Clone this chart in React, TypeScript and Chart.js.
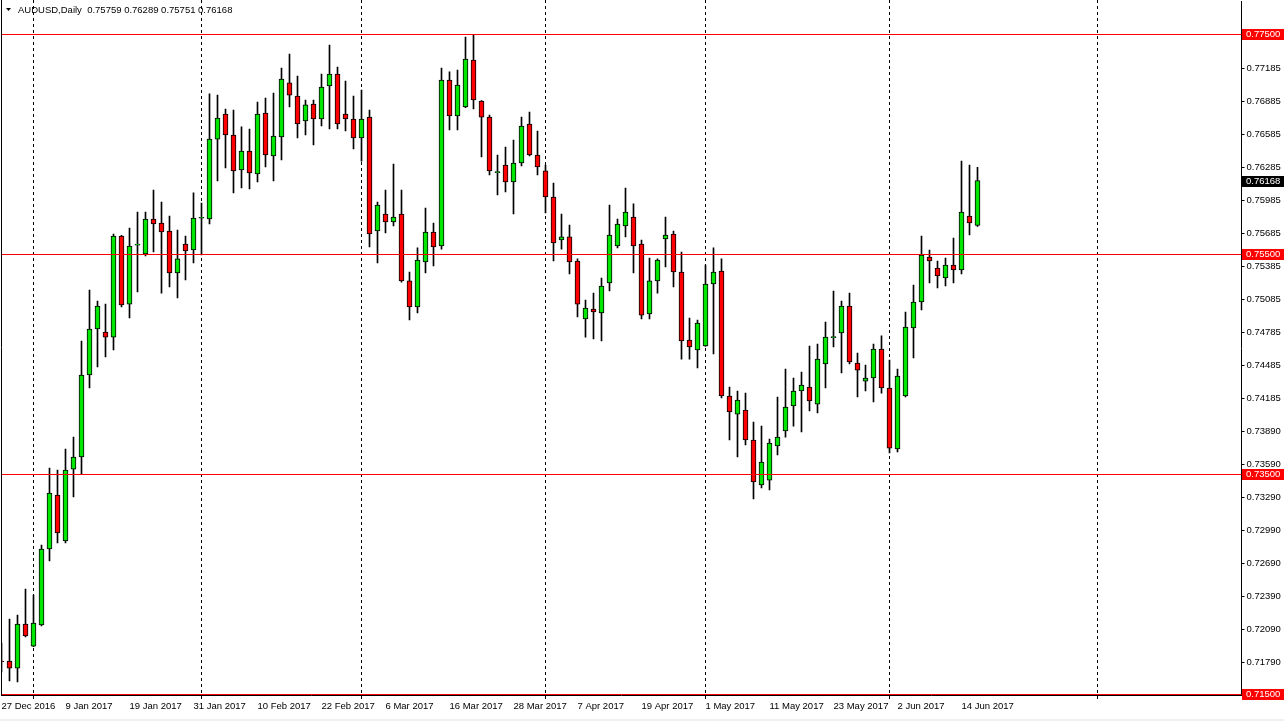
import React, { useEffect, useRef } from "react";
import { Chart, registerables } from "chart.js";

Chart.register(...registerables);

// ---- Data (AUDUSD daily) ----
const SYMBOL = "AUDUSD,Daily";

const OPEN = [
  0.718, 0.718, 0.71736, 0.72136, 0.71936, 0.72127, 0.72818, 0.73309, 0.72891, 0.73545,
  0.73655, 0.744, 0.74818, 0.74791, 0.74745, 0.75664, 0.75045, 0.7558, 0.755, 0.75818,
  0.75782, 0.75709, 0.75327, 0.75591, 0.75536, 0.75825, 0.75818, 0.76545, 0.76773, 0.76582,
  0.76264, 0.76436, 0.76227, 0.76782, 0.76391, 0.76564, 0.77055, 0.76936, 0.76709, 0.76864,
  0.76727, 0.77027, 0.77136, 0.76773, 0.76727, 0.76555, 0.76745, 0.75709, 0.75864, 0.75791,
  0.75864, 0.75255, 0.75018, 0.75427, 0.757, 0.75573, 0.77082, 0.76755, 0.76836, 0.77264,
  0.76891, 0.76745, 0.7624, 0.76309, 0.76155, 0.76327, 0.76682, 0.764, 0.76255, 0.76018,
  0.75627, 0.75655, 0.75436, 0.74909, 0.75, 0.74964, 0.75236, 0.75573, 0.75755, 0.75836,
  0.75591, 0.74955, 0.75255, 0.75636, 0.75682, 0.75336, 0.74718, 0.74627, 0.74664, 0.75227,
  0.75345, 0.74209, 0.74045, 0.74082, 0.73809, 0.734, 0.73445, 0.73755, 0.73891, 0.74118,
  0.74255, 0.74291, 0.74136, 0.745, 0.7474, 0.74782, 0.75027, 0.74509, 0.74345, 0.74373,
  0.74636, 0.74282, 0.73727, 0.74209, 0.74827, 0.75064, 0.75473, 0.75373, 0.75282, 0.754,
  0.75355, 0.75845, 0.75759,
];
const HIGH = [
  0.71964, 0.72182, 0.72218, 0.72455, 0.724, 0.72855, 0.73555, 0.73536, 0.73727, 0.73836,
  0.74709, 0.75173, 0.75073, 0.75045, 0.75682, 0.7567, 0.75736, 0.75882, 0.75882, 0.76082,
  0.75973, 0.75845, 0.75718, 0.75664, 0.76055, 0.75964, 0.76955, 0.76945, 0.76818, 0.76809,
  0.76655, 0.76636, 0.76882, 0.76918, 0.76964, 0.77191, 0.77318, 0.77118, 0.769, 0.769,
  0.77136, 0.774, 0.772, 0.77073, 0.76936, 0.76991, 0.76809, 0.75973, 0.76082, 0.76318,
  0.76082, 0.75336, 0.75555, 0.75918, 0.75782, 0.77191, 0.77155, 0.77173, 0.77473, 0.77491,
  0.76895, 0.76764, 0.764, 0.76473, 0.76536, 0.76745, 0.76791, 0.76618, 0.76309, 0.76145,
  0.75864, 0.75764, 0.75455, 0.75082, 0.75145, 0.75282, 0.75945, 0.75818, 0.761, 0.75955,
  0.75627, 0.75464, 0.75455, 0.75836, 0.75709, 0.75518, 0.74918, 0.749, 0.754, 0.75555,
  0.75455, 0.74291, 0.74255, 0.74236, 0.73973, 0.73936, 0.73818, 0.742, 0.74455, 0.74373,
  0.74427, 0.74664, 0.74682, 0.74882, 0.75164, 0.75073, 0.75145, 0.746, 0.74491, 0.74682,
  0.74755, 0.74536, 0.74455, 0.74973, 0.75218, 0.75664, 0.75536, 0.75436, 0.75464, 0.75645,
  0.76345, 0.76309, 0.76289,
];
const LOW = [
  0.717, 0.71618, 0.71609, 0.72018, 0.7193, 0.7212, 0.72709, 0.72873, 0.72873, 0.73291,
  0.735, 0.74282, 0.74473, 0.74564, 0.74627, 0.75018, 0.74918, 0.75155, 0.75482, 0.75518,
  0.75145, 0.752, 0.751, 0.75264, 0.75418, 0.75491, 0.75773, 0.76164, 0.76282, 0.76055,
  0.761, 0.76091, 0.76155, 0.76291, 0.76164, 0.76355, 0.76836, 0.76555, 0.76582, 0.76491,
  0.76664, 0.76636, 0.76636, 0.76618, 0.76455, 0.76345, 0.75564, 0.75418, 0.75691, 0.75755,
  0.75245, 0.749, 0.74964, 0.75327, 0.75391, 0.75545, 0.76627, 0.76627, 0.7683, 0.76818,
  0.76382, 0.76218, 0.76036, 0.76064, 0.75864, 0.763, 0.76391, 0.76218, 0.75873, 0.75436,
  0.75545, 0.75318, 0.74927, 0.74745, 0.74727, 0.74709, 0.75164, 0.75555, 0.75655, 0.75327,
  0.74909, 0.74909, 0.75145, 0.75382, 0.752, 0.74545, 0.74545, 0.74464, 0.7466, 0.74591,
  0.74191, 0.73809, 0.73655, 0.73764, 0.73273, 0.73373, 0.73355, 0.73673, 0.73836, 0.73936,
  0.73882, 0.74073, 0.74055, 0.74282, 0.74655, 0.74418, 0.745, 0.742, 0.74255, 0.74155,
  0.74236, 0.73691, 0.737, 0.742, 0.74555, 0.74991, 0.75236, 0.75191, 0.75209, 0.75236,
  0.75318, 0.75673, 0.75751,
];
const CLOSE = [
  0.71791, 0.71736, 0.72136, 0.72027, 0.72145, 0.72818, 0.73327, 0.72964, 0.73536, 0.73655,
  0.744, 0.74818, 0.75027, 0.74745, 0.75664, 0.75036, 0.75573, 0.75585, 0.75818, 0.75773,
  0.757, 0.75327, 0.75455, 0.75527, 0.75827, 0.7583, 0.76545, 0.76736, 0.76582, 0.76255,
  0.76436, 0.76236, 0.76773, 0.764, 0.76573, 0.77091, 0.76945, 0.76682, 0.76855, 0.76727,
  0.77018, 0.77136, 0.76682, 0.76727, 0.76555, 0.76727, 0.75682, 0.75945, 0.75791, 0.75836,
  0.75255, 0.75018, 0.75445, 0.757, 0.75564, 0.77082, 0.76755, 0.77036, 0.77273, 0.769,
  0.76745, 0.76255, 0.7625, 0.76155, 0.76327, 0.76664, 0.764, 0.76291, 0.76018, 0.756,
  0.75655, 0.75427, 0.75045, 0.75009, 0.74973, 0.75209, 0.75673, 0.75773, 0.75882, 0.75573,
  0.74945, 0.75255, 0.75445, 0.75673, 0.75336, 0.74709, 0.74655, 0.74873, 0.75227, 0.75336,
  0.74209, 0.74064, 0.74173, 0.73809, 0.73427, 0.73609, 0.73782, 0.73836, 0.74109, 0.74255,
  0.74309, 0.74164, 0.74545, 0.74745, 0.7475, 0.75027, 0.74518, 0.74445, 0.74373, 0.74636,
  0.74282, 0.73736, 0.74391, 0.74836, 0.75064, 0.75491, 0.75436, 0.753, 0.754, 0.75355,
  0.75882, 0.75782, 0.76168,
];

// bottom time-axis labels, one every BARS_PER_LABEL bars
const DATE_LABELS = [
  "27 Dec 2016", "9 Jan 2017", "19 Jan 2017", "31 Jan 2017", "10 Feb 2017", "22 Feb 2017",
  "6 Mar 2017", "16 Mar 2017", "28 Mar 2017", "7 Apr 2017", "19 Apr 2017", "1 May 2017",
  "11 May 2017", "23 May 2017", "2 Jun 2017", "14 Jun 2017",
];
const BARS_PER_LABEL = 8;
const TOTAL_SLOTS = 156;
// bars where a new month starts (period separators)
const SEPARATOR_BARS = [4, 25, 45, 68, 88, 111, 137];

// right price-axis ticks
const PRICE_TICKS = [
  0.77485, 0.77185, 0.76885, 0.76585, 0.76285, 0.75985, 0.75685, 0.75385, 0.75085, 0.74785,
  0.74485, 0.74185, 0.7389, 0.7359, 0.7329, 0.7299, 0.7269, 0.7239, 0.7209, 0.7179,
];
const PRICE_MIN = 0.71491;
const PRICE_MAX = 0.778;

// horizontal support / resistance lines
const LEVELS = [0.775, 0.755, 0.735, 0.715];
const LAST_PRICE = CLOSE[CLOSE.length - 1];

const BULL = "#00e600";
const BEAR = "#ff0000";
const LEVEL_COLOR = "#ff0000";
const FONT = "'Liberation Sans', Arial, sans-serif";

const CATEGORIES = Array.from({ length: TOTAL_SLOTS }, (_, i) =>
  i % BARS_PER_LABEL === 0 && DATE_LABELS[i / BARS_PER_LABEL] ? DATE_LABELS[i / BARS_PER_LABEL] : ""
);
const LABEL_INDEXES = DATE_LABELS.map((_, k) => k * BARS_PER_LABEL);

const overlayPlugin = {
  id: "mtOverlay",
  beforeDatasetsDraw(chart: any) {
    const { ctx, chartArea: a, scales } = chart;
    ctx.save();
    ctx.strokeStyle = "#000";
    ctx.lineWidth = 1;
    ctx.setLineDash([3, 3]);
    SEPARATOR_BARS.forEach((i) => {
      const px = Math.floor(scales.x.getPixelForValue(i)) + 0.5;
      ctx.beginPath();
      ctx.moveTo(px, 0);
      ctx.lineTo(px, a.bottom);
      ctx.stroke();
    });
    ctx.restore();
  },
  afterDatasetsDraw(chart: any) {
    const { ctx, chartArea: a, scales } = chart;
    ctx.save();
    ctx.fillStyle = LEVEL_COLOR;
    LEVELS.forEach((v) => {
      const py = Math.round(scales.y.getPixelForValue(v));
      ctx.fillRect(a.left, py, a.right - a.left, 1);
    });
    ctx.restore();
  },
  afterDraw(chart: any) {
    const { ctx, chartArea: a, scales, width, height } = chart;
    ctx.save();
    // separator ticks under the time axis
    ctx.strokeStyle = "#000";
    ctx.lineWidth = 1;
    SEPARATOR_BARS.forEach((i) => {
      const px = Math.floor(scales.x.getPixelForValue(i)) + 0.5;
      ctx.beginPath();
      ctx.moveTo(px, a.bottom);
      ctx.lineTo(px, a.bottom + 4);
      ctx.stroke();
    });
    // left frame line
    ctx.beginPath();
    ctx.moveTo(1.5, 0);
    ctx.lineTo(1.5, a.bottom);
    ctx.stroke();

    // price boxes on the right axis
    const box = (v: number, bg: string) => {
      const py = Math.round(scales.y.getPixelForValue(v));
      ctx.fillStyle = bg;
      ctx.fillRect(Math.ceil(a.right), py - 5, width - Math.ceil(a.right), 11);
      ctx.fillStyle = "#fff";
      ctx.font = `9.5px ${FONT}`;
      ctx.textBaseline = "middle";
      ctx.textAlign = "left";
      ctx.fillText(v.toFixed(5), a.right + 4.5, py + 0.5);
    };
    LEVELS.forEach((v) => box(v, LEVEL_COLOR));
    box(LAST_PRICE, "#000");

    // header
    const n = CLOSE.length - 1;
    ctx.fillStyle = "#000";
    ctx.beginPath();
    ctx.moveTo(6, 8);
    ctx.lineTo(11, 8);
    ctx.lineTo(8.5, 11);
    ctx.closePath();
    ctx.fill();
    ctx.font = `9.5px ${FONT}`;
    ctx.textBaseline = "middle";
    ctx.textAlign = "left";
    const header = `${SYMBOL}  ${OPEN[n].toFixed(5)} ${HIGH[n].toFixed(5)} ${LOW[n].toFixed(5)} ${CLOSE[n].toFixed(5)}`;
    ctx.fillText(header, 18, 10);

    // bottom window strip
    ctx.fillStyle = "#f0f0f0";
    ctx.fillRect(0, height - 2, width, 2);
    ctx.restore();
  },
};

export default function App() {
  const ref = useRef<HTMLCanvasElement>(null);

  useEffect(() => {
    if (!ref.current) return;
    const bodies = OPEN.map((o, i) => [o, CLOSE[i]]);
    const wicks = LOW.map((l, i) => [l, HIGH[i]]);
    const colors = OPEN.map((o, i) => (CLOSE[i] >= o ? BULL : BEAR));

    const chart = new Chart(ref.current, {
      type: "bar",
      data: {
        labels: CATEGORIES,
        datasets: [
          {
            label: "body",
            data: bodies as any,
            backgroundColor: colors,
            borderColor: "#000",
            borderWidth: 1,
            borderSkipped: false,
            barThickness: 5,
            minBarLength: 1,
            grouped: false,
            order: 1,
          } as any,
          {
            label: "wick",
            data: wicks as any,
            backgroundColor: "#000",
            borderWidth: 0,
            barThickness: 1,
            grouped: false,
            order: 2,
          } as any,
        ],
      },
      options: {
        responsive: false,
        animation: false,
        devicePixelRatio: 1,
        events: [],
        layout: { padding: { left: 1.5, top: 1, right: 0, bottom: 0 } },
        plugins: { legend: { display: false }, tooltip: { enabled: false }, title: { display: false } },
        scales: {
          x: {
            type: "category",
            offset: false,
            grid: { display: true, drawOnChartArea: false, drawTicks: false },
            border: { display: true, color: "#000", width: 1 },
            afterBuildTicks: (axis: any) => {
              axis.ticks = LABEL_INDEXES.map((v) => ({ value: v }));
            },
            afterFit: (axis: any) => {
              axis.height = 26;
              axis.paddingLeft = 0;
              axis.paddingRight = 0;
              axis.paddingTop = 0;
              axis.paddingBottom = 0;
            },
            ticks: {
              autoSkip: false,
              maxRotation: 0,
              minRotation: 0,
              align: "start",
              padding: 6,
              color: "#000",
              font: { family: FONT, size: 9.5 },
            },
          },
          y: {
            type: "linear",
            position: "right",
            min: PRICE_MIN,
            max: PRICE_MAX,
            bounds: "data",
            grid: { display: true, drawOnChartArea: false, drawTicks: true, tickLength: 3, tickColor: "#000" },
            border: { display: true, color: "#000", width: 1 },
            afterBuildTicks: (axis: any) => {
              axis.ticks = PRICE_TICKS.map((v) => ({ value: v }));
            },
            afterFit: (axis: any) => {
              axis.width = 42.5;
              axis.paddingTop = 0;
              axis.paddingBottom = 0;
              axis.paddingLeft = 0;
              axis.paddingRight = 0;
            },
            ticks: {
              autoSkip: false,
              padding: 2,
              color: "#000",
              font: { family: FONT, size: 9.5 },
              callback: (v: any) => Number(v).toFixed(5),
            },
          },
        },
      },
      plugins: [overlayPlugin],
    } as any);
    return () => chart.destroy();
  }, []);

  return (
    <div style={{ position: "fixed", left: 0, top: 0, width: 1284, height: 721, background: "#fff" }}>
      <canvas ref={ref} width={1284} height={721} style={{ display: "block", width: 1284, height: 721 }} />
    </div>
  );
}
